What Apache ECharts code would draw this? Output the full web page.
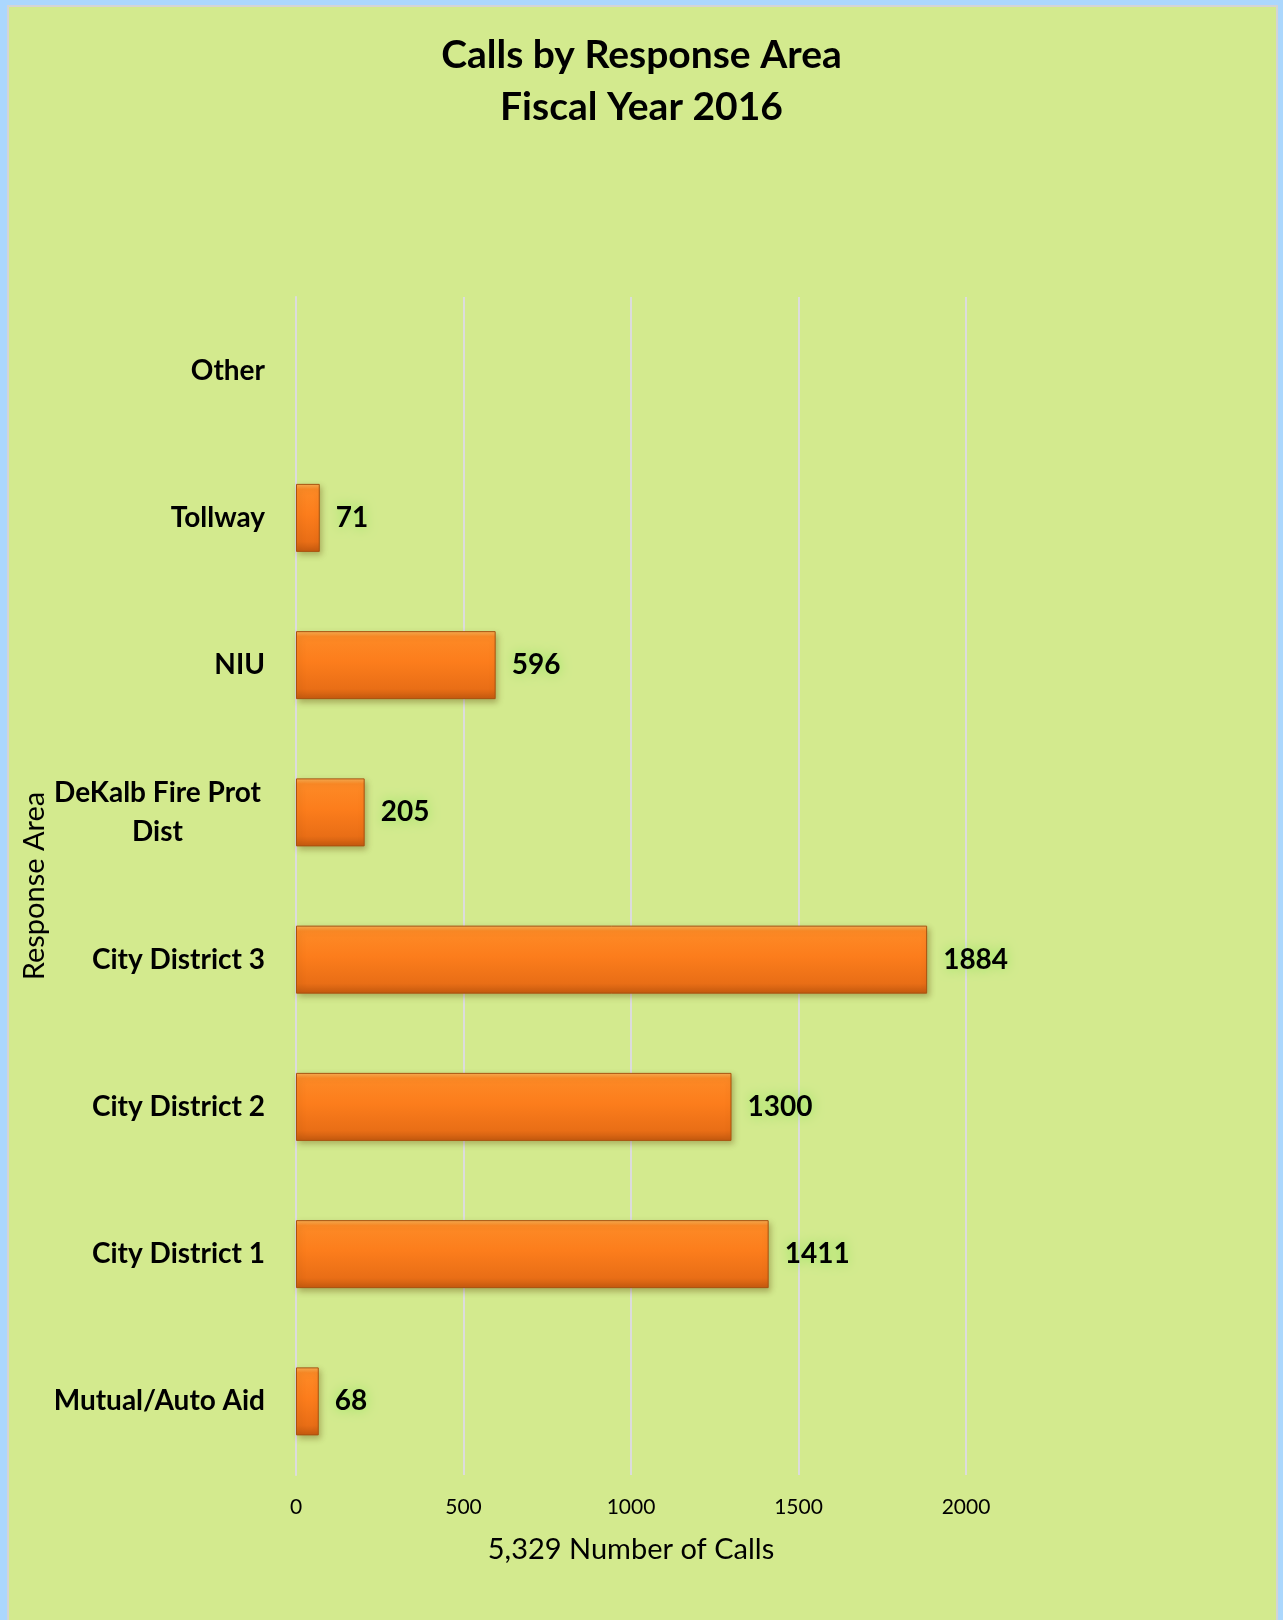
<!DOCTYPE html>
<html>
<head>
<meta charset="utf-8">
<script src="https://cdn.jsdelivr.net/npm/echarts@6/dist/echarts.min.js"></script>
<style>
  html, body { margin: 0; padding: 0; background: #abd7fd; }
  #chart { width: 1283px; height: 1620px; }
</style>
</head>
<body>
<div id="chart"></div>
<script>
// data
const categories = ['Mutual/Auto Aid', 'City District 1', 'City District 2', 'City District 3',
  'DeKalb Fire Prot\nDist', 'NIU', 'Tollway', 'Other'];
const calls = [68, 1411, 1300, 1884, 205, 596, 71, null];
const titleLines = ['Calls by Response Area', 'Fiscal Year 2016'];
const xName = '5,329 Number of Calls';
const yName = 'Response Area';

const font = 'Lato, "Open Sans", sans-serif';

const barColor = new echarts.graphic.LinearGradient(0, 0, 0, 1, [
  { offset: 0, color: '#f9b055' },
  { offset: 0.08, color: '#fd8a26' },
  { offset: 0.45, color: '#fc7d1c' },
  { offset: 0.85, color: '#e96e16' },
  { offset: 1, color: '#c4590f' }
]);

const catStyle = { fontFamily: font, fontSize: 28, fontWeight: 'bold', color: '#000', lineHeight: 39 };

const chart = echarts.init(document.getElementById('chart'));
chart.setOption({
  backgroundColor: 'transparent',
  animation: false,
  graphic: [{
    type: 'rect',
    z: -10,
    shape: { x: 8, y: 6, width: 1269, height: 1640 },
    style: { fill: '#d3ea8e', stroke: '#d4d4d4', lineWidth: 2 }
  }],
  title: {
    text: titleLines.join('\n'),
    left: 'center',
    top: 24,
    textStyle: {
      fontFamily: font, fontWeight: 'bold', fontSize: 39,
      color: '#000', lineHeight: 52
    }
  },
  grid: { left: 296, right: 317, top: 297, bottom: 145 },
  xAxis: {
    type: 'value',
    min: 0,
    max: 2000,
    interval: 500,
    name: xName,
    nameLocation: 'middle',
    nameGap: 60,
    nameMoveOverlap: false,
    nameTextStyle: { fontFamily: font, fontSize: 29, color: '#000' },
    axisLine: { show: false },
    axisTick: { show: false },
    axisLabel: {
      fontFamily: font, fontSize: 21, color: '#000', margin: 22,
      formatter: v => String(v)
    },
    splitLine: { show: true, lineStyle: { color: '#dcdcdc', width: 2 } }
  },
  yAxis: {
    type: 'category',
    data: categories,
    name: yName,
    nameLocation: 'middle',
    nameGap: 247,
    nameRotate: 90,
    nameMoveOverlap: false,
    nameTextStyle: { fontFamily: font, fontSize: 29, color: '#000' },
    axisLine: { show: true, lineStyle: { color: '#dcdcdc', width: 2 } },
    axisTick: { show: false },
    axisLabel: Object.assign({
      margin: 31,
      align: 'right',
      // multi-line names are centred within their block, as in the original
      formatter: v => v.indexOf('\n') >= 0 ? '{c|' + v + '}' : v,
      rich: { c: Object.assign({ width: 215, align: 'center' }, catStyle) }
    }, catStyle)
  },
  series: [{
    type: 'bar',
    data: calls,
    barWidth: 68,
    itemStyle: {
      color: barColor,
      borderColor: '#a9520f',
      borderWidth: 1,
      shadowColor: 'rgba(90,60,0,0.35)',
      shadowBlur: 6,
      shadowOffsetX: 2,
      shadowOffsetY: 3
    },
    label: {
      show: true,
      position: 'right',
      distance: 16,
      fontFamily: font,
      fontSize: 28,
      fontWeight: 'bold',
      color: '#000',
      textShadowColor: '#8fe65a',
      textShadowBlur: 12
    }
  }]
});
</script>
</body>
</html>
